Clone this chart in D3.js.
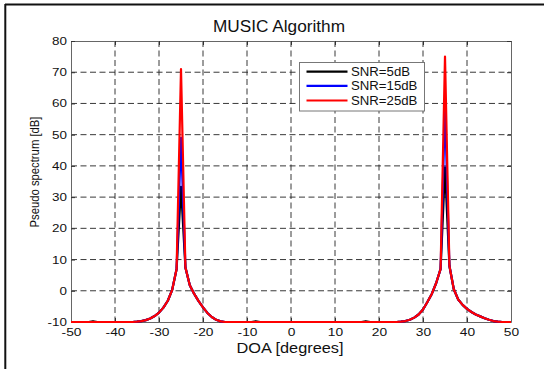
<!DOCTYPE html>
<html>
<head>
<meta charset="utf-8">
<script src="https://cdn.jsdelivr.net/npm/d3@7"></script>
<style>
  body { margin: 0; background: #fff; }
  svg { display: block; font-family: "Liberation Sans", Arial, sans-serif; }
</style>
</head>
<body>
<script>
// angles, 1 degree steps from -50 to 50
var doa = d3.range(-50, 51);

var snr25 = [
  -10, -10, -10, -10, -10, -10, -10, -10, -10, -10,
  -10, -10, -10, -10, -10, -9.9, -9.7, -9.4, -8.9, -8.1,
  -7, -5.4, -3.2, 0.3, 7, 71, 7.5, 1.8, -1, -3.3,
  -5.3, -7.1, -8.4, -9.3, -9.8, -10, -10, -10, -10, -10,
  -10, -10, -10, -10, -10, -10, -10, -10, -10, -10,
  -10, -10, -10, -10, -10, -10, -10, -10, -10, -10,
  -10, -10, -10, -10, -10, -10, -10, -10, -10, -10,
  -10, -10, -10, -10, -10, -9.9, -9.7, -9.3, -8.6, -7.6,
  -6, -3.6, -1, 2.5, 7, 75, 8, 0.5, -2.8, -4.5,
  -5.8, -6.8, -7.6, -8.2, -8.8, -9.3, -9.7, -9.9, -10, -10, -10
];

var snr15 = [
  -10, -10, -10, -10, -10, -10, -10, -10, -10, -10,
  -10, -10, -10, -10, -10, -9.9, -9.7, -9.4, -8.9, -8.1,
  -7, -5.4, -3.2, 0.3, 7, 49, 7.5, 1.8, -1, -3.3,
  -5.3, -7.1, -8.4, -9.3, -9.8, -10, -10, -10, -10, -10,
  -10, -10, -10, -10, -10, -10, -10, -10, -10, -10,
  -10, -10, -10, -10, -10, -10, -10, -10, -10, -10,
  -10, -10, -10, -10, -10, -10, -10, -10, -10, -10,
  -10, -10, -10, -10, -10, -9.9, -9.7, -9.3, -8.6, -7.6,
  -6, -3.6, -1, 2.5, 7, 59, 8, 0.5, -2.8, -4.5,
  -5.8, -6.8, -7.6, -8.2, -8.8, -9.3, -9.7, -9.9, -10, -10, -10
];

var snr5 = [
  -10, -10, -10, -10, -10, -9.75, -10, -10, -10, -10,
  -10, -10, -10, -10, -10, -9.9, -9.7, -9.4, -8.9, -8.1,
  -7, -5.4, -3.2, 0.3, 7, 33.3, 7.5, 1.8, -1, -3.3,
  -5.3, -7.1, -8.4, -9.3, -9.8, -10, -10, -10, -10, -10,
  -10, -10, -9.75, -10, -10, -10, -10, -10, -10, -10,
  -10, -10, -10, -10, -10, -10, -10, -10, -10, -10,
  -10, -10, -10, -10, -10, -10, -10, -9.75, -10, -10,
  -10, -10, -10, -10, -10, -9.9, -9.7, -9.3, -8.6, -7.6,
  -6, -3.6, -1, 2.5, 7, 39.5, 8, 0.5, -2.8, -4.5,
  -5.8, -6.8, -7.6, -8.2, -8.8, -9.3, -9.7, -9.9, -10, -10, -10
];

var xTicks = d3.range(-50, 51, 10);
var yTicks = d3.range(-10, 81, 10);
var seriesNames = ["SNR=5dB", "SNR=15dB", "SNR=25dB"];
var seriesColors = ["#000000", "#0000ff", "#ff0000"];

var width = 544, height = 369;
var plotLeft = 71, plotRight = 511, plotTop = 41, plotBottom = 322;

var x = d3.scaleLinear().domain([-50, 50]).range([plotLeft, plotRight]);
var y = d3.scaleLinear().domain([-10, 80]).range([plotBottom, plotTop]);

var svg = d3.select("body").append("svg")
    .attr("width", width)
    .attr("height", height);

// outer frame (top and left edges only)
svg.append("line")
    .attr("x1", 5).attr("x2", width).attr("y1", 4.5).attr("y2", 4.5)
    .attr("stroke", "#111").attr("stroke-width", 1.8);
svg.append("line")
    .attr("x1", 5.3).attr("x2", 5.3).attr("y1", 4).attr("y2", height)
    .attr("stroke", "#111").attr("stroke-width", 2);

// stretch text a bit, the picture is wider than the font
function widen(sel, k) {
  sel.each(function() {
    var w = this.getComputedTextLength();
    d3.select(this).attr("textLength", w * k).attr("lengthAdjust", "spacingAndGlyphs");
  });
}

// grid
var grid = svg.append("g")
    .attr("stroke", "#222")
    .attr("stroke-width", 0.9)
    .attr("stroke-dasharray", "6,3.5");

grid.selectAll(".vg")
    .data(xTicks.slice(1, -1))
    .enter().append("line")
    .attr("x1", function(d) { return x(d); })
    .attr("x2", function(d) { return x(d); })
    .attr("y1", plotTop).attr("y2", plotBottom);

grid.selectAll(".hg")
    .data(yTicks.slice(1, -1))
    .enter().append("line")
    .attr("x1", plotLeft).attr("x2", plotRight)
    .attr("y1", function(d) { return y(d); })
    .attr("y2", function(d) { return y(d); });

// axes
var xAxis = svg.append("g")
    .attr("transform", "translate(0," + plotBottom + ")")
    .call(d3.axisBottom(x).tickValues(xTicks).tickSizeInner(-4).tickSizeOuter(0).tickPadding(6)
      .tickFormat(function(d) { return d; }));
var xTop = svg.append("g")
    .attr("transform", "translate(0," + plotTop + ")")
    .call(d3.axisTop(x).tickValues(xTicks).tickSizeInner(-4).tickSizeOuter(0).tickFormat(""));
var yAxis = svg.append("g")
    .attr("transform", "translate(" + plotLeft + ",0)")
    .call(d3.axisLeft(y).tickValues(yTicks).tickSizeInner(-4).tickSizeOuter(0).tickPadding(4)
      .tickFormat(function(d) { return d; }));
var yRight = svg.append("g")
    .attr("transform", "translate(" + plotRight + ",0)")
    .call(d3.axisRight(y).tickValues(yTicks).tickSizeInner(-4).tickSizeOuter(0).tickFormat(""));

[xAxis, xTop, yAxis, yRight].forEach(function(g) {
  g.select(".domain").attr("stroke", "#666");
  g.selectAll(".tick line").attr("stroke", "#333");
  g.selectAll("text")
      .attr("fill", "#111")
      .style("font-family", "'Liberation Sans', Arial, sans-serif")
      .style("font-size", "11px");
});
widen(xAxis.selectAll("text"), 1.25);
widen(yAxis.selectAll("text"), 1.22);

// series
var line = d3.line()
    .x(function(d) { return x(d[0]); })
    .y(function(d) { return y(d[1]); });

[snr5, snr15, snr25].forEach(function(vals, i) {
  svg.append("path")
      .datum(doa.map(function(a, j) { return [a, vals[j]]; }))
      .attr("fill", "none")
      .attr("stroke", seriesColors[i])
      .attr("stroke-width", 2.2)
      .attr("stroke-linejoin", "round")
      .attr("d", line);
});

// title and labels
svg.append("text")
    .attr("x", 279).attr("y", 32)
    .attr("text-anchor", "middle")
    .attr("textLength", 132).attr("lengthAdjust", "spacingAndGlyphs")
    .style("font-size", "16px")
    .attr("fill", "#111")
    .text("MUSIC Algorithm");

svg.append("text")
    .attr("x", 290).attr("y", 353)
    .attr("text-anchor", "middle")
    .attr("textLength", 107).attr("lengthAdjust", "spacingAndGlyphs")
    .style("font-size", "14px")
    .attr("fill", "#111")
    .text("DOA [degrees]");

svg.append("text")
    .attr("transform", "translate(38.5,172) rotate(-90)")
    .attr("text-anchor", "middle")
    .attr("textLength", 111).attr("lengthAdjust", "spacingAndGlyphs")
    .style("font-size", "13px")
    .attr("fill", "#111")
    .text("Pseudo spectrum [dB]");

// legend
var legend = svg.append("g");
legend.append("rect")
    .attr("x", 299.5).attr("y", 62.5)
    .attr("width", 125).attr("height", 48.5)
    .attr("fill", "#fff")
    .attr("stroke", "#777")
    .attr("stroke-width", 1);

var rows = legend.selectAll(".row")
    .data(seriesNames)
    .enter().append("g")
    .attr("transform", function(d, i) { return "translate(0," + [71.7, 85.8, 100.5][i] + ")"; });

rows.append("line")
    .attr("x1", 306.5).attr("x2", 347.5)
    .attr("stroke", function(d, i) { return seriesColors[i]; })
    .attr("stroke-width", 2.2);

var labels = rows.append("text")
    .attr("x", 351)
    .attr("dy", "0.35em")
    .style("font-size", "12px")
    .attr("fill", "#111")
    .text(function(d) { return d; });
widen(labels, 1.1);
</script>
</body>
</html>
